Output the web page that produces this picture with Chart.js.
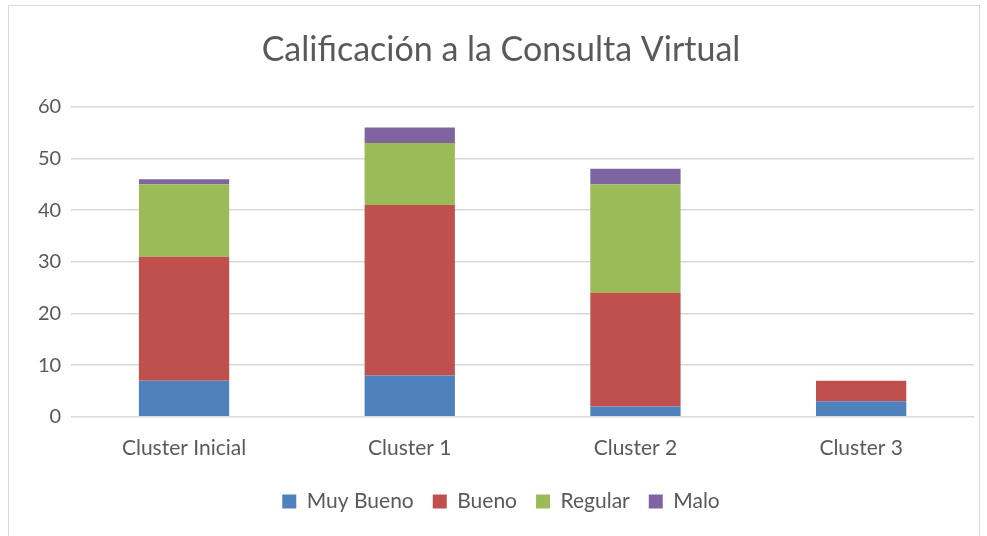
<!DOCTYPE html>
<html>
<head>
<meta charset="utf-8">
<script src="https://cdn.jsdelivr.net/npm/chart.js@4"></script>
<style>
  html, body { margin: 0; padding: 0; background: #fff; }
  #marco {
    position: absolute; left: 8px; top: 5px; width: 972px; height: 540px;
    border: 1px solid #d9d9d9; box-sizing: border-box;
  }
  #grafico { position: absolute; left: 0; top: 0; }
</style>
</head>
<body>
<div id="marco"><canvas id="grafico" width="970" height="530"></canvas></div>
<script>
// datos
const categorias = ['Cluster Inicial', 'Cluster 1', 'Cluster 2', 'Cluster 3'];
const muyBueno = [7, 8, 2, 3];
const bueno = [24, 33, 22, 4];
const regular = [14, 12, 21, 0];
const malo = [1, 3, 3, 0];

const gris = '#595959';
const fuente = 'Lato, "Open Sans", sans-serif';

const ctx = document.getElementById('grafico').getContext('2d');
new Chart(ctx, {
  type: 'bar',
  data: {
    labels: categorias,
    datasets: [
      { label: 'Muy Bueno', data: muyBueno, backgroundColor: '#4f81bd' },
      { label: 'Bueno', data: bueno, backgroundColor: '#c0504d' },
      { label: 'Regular', data: regular, backgroundColor: '#9bbb59' },
      { label: 'Malo', data: malo, backgroundColor: '#8064a2' }
    ]
  },
  options: {
    responsive: false,
    animation: false,
    layout: { padding: { left: 19, right: 5, top: 14, bottom: 14 } },
    datasets: { bar: { categoryPercentage: 1, barPercentage: 0.4 } },
    scales: {
      x: {
        stacked: true,
        grid: { display: false },
        border: { display: false },
        ticks: { color: gris, font: { family: fuente, size: 21 }, padding: 11 }
      },
      y: {
        stacked: true,
        min: 0, max: 60,
        ticks: { stepSize: 10, color: gris, font: { family: fuente, size: 20 }, padding: 10 },
        grid: { color: '#d9d9d9', lineWidth: 1.5, drawTicks: false },
        border: { display: false }
      }
    },
    plugins: {
      title: {
        display: true,
        text: 'Calificación a la Consulta Virtual',
        color: gris,
        font: { family: fuente, size: 34, weight: 'normal' },
        padding: { top: 10, bottom: 36 }
      },
      legend: {
        position: 'bottom',
        labels: {
          color: gris,
          font: { family: fuente, size: 21 },
          boxWidth: 14, boxHeight: 14,
          padding: 19
        }
      },
      tooltip: { enabled: false }
    }
  }
});
</script>
</body>
</html>
